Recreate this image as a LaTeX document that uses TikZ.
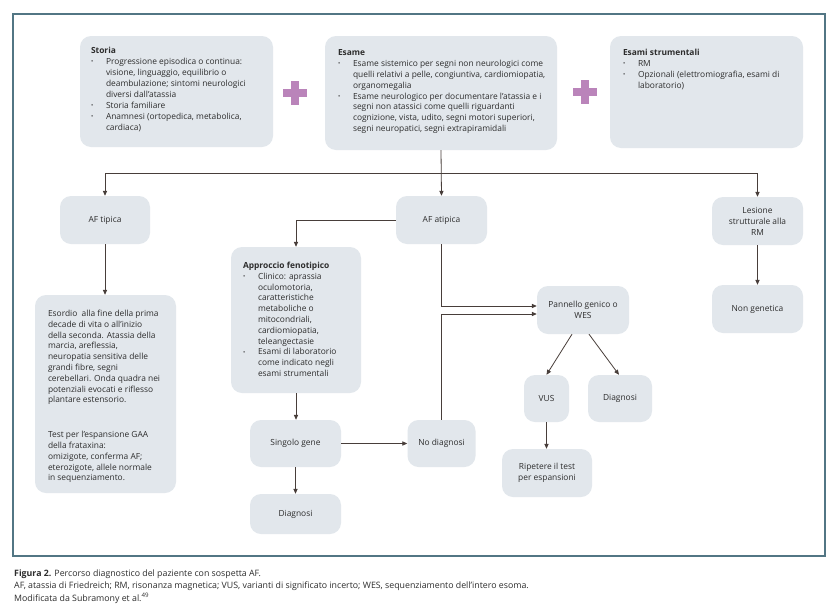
\documentclass[tikz,border=0pt]{standalone}
\usepackage{fontspec}
\setmainfont{Open Sans}
\usetikzlibrary{arrows.meta}
\definecolor{boxgray}{RGB}{226,231,236}
\definecolor{linec}{RGB}{72,62,58}
\definecolor{framec}{RGB}{82,118,132}
\definecolor{plusc}{RGB}{186,132,186}
\definecolor{txtc}{RGB}{45,45,45}
\newcommand{\bt}{\fontsize{8.4}{11}\selectfont}
\newcommand{\btt}{\fontsize{8.4}{10.8}\selectfont}
\newcommand{\bitem}[1]{\par\noindent\hangindent=15pt\hangafter=1\makebox[15pt][l]{\raisebox{0.15ex}{\scalebox{0.7}{\textbullet}}}#1}
% \topbox{width}{height}{left pad}{top pad}{content}
\newcommand{\topbox}[5]{\parbox[c][#2][t]{#1}{\vspace*{#4}\leftskip=#3\relax\parindent=0pt #5\par}}
\tikzset{
  box/.style={fill=boxgray, rounded corners=11pt, inner sep=0pt, align=center, font=\bt, text=txtc},
  conn/.style={draw=linec, line width=0.8pt},
  arr/.style={conn, -{Triangle[length=5pt,width=4.2pt]}},
  captext/.style={anchor=west, inner sep=0pt, font=\fontsize{8.8}{10}\selectfont, text=txtc}
}
\begin{document}
\begin{tikzpicture}[x=1pt,y=-1pt]
\useasboundingbox (0,0) rectangle (836,611);
\fill[white] (0,0) rectangle (836,611);
\draw[framec, line width=1.3pt] (13,14) rectangle (825,556);

% top boxes
\node[box, minimum width=193pt, minimum height=111pt] (storia) at (176.5,91.5)
 {\topbox{193pt}{111pt}{11pt}{11pt}{\textbf{Storia}
  \bitem{Progressione episodica o continua:\\ visione, linguaggio, equilibrio o\\ deambulazione; sintomi neurologici\\ diversi dall'atassia}
  \bitem{Storia familiare}
  \bitem{Anamnesi (ortopedica, metabolica,\\ cardiaca)}}};
\node[box, minimum width=232pt, minimum height=114pt] (esame) at (441,93)
 {\topbox{232pt}{114pt}{13pt}{13pt}{\textbf{Esame}
  \bitem{Esame sistemico per segni non neurologici come\\ quelli relativi a pelle, congiuntiva, cardiomiopatia,\\ organomegalia}
  \bitem{Esame neurologico per documentare l’atassia e i\\ segni non atassici come quelli riguardanti\\ cognizione, vista, udito, segni motori superiori,\\ segni neuropatici, segni extrapiramidali}}};
\node[box, minimum width=193pt, minimum height=112pt] (strum) at (706.5,92)
 {\topbox{193pt}{112pt}{13pt}{13pt}{\textbf{Esami strumentali}
  \bitem{RM}
  \bitem{Opzionali (elettromiografia, esami di\\ laboratorio)}}};

% plus signs
\fill[plusc] (283,89) rectangle (307,97);
\fill[plusc] (291,81) rectangle (299,105);
\fill[plusc] (572.5,88) rectangle (596.5,96);
\fill[plusc] (580.5,80) rectangle (588.5,104);

% second row
\node[box, minimum width=90pt, minimum height=48pt] (aftip) at (105,220) {AF tipica};
\node[box, minimum width=91pt, minimum height=48pt] (afatip) at (441.5,220) {AF atipica};
\node[box, minimum width=91pt, minimum height=48pt] (lesione) at (757.5,221) {Lesione\\ strutturale alla\\ RM};
\node[box, minimum width=91pt, minimum height=48pt] (nongen) at (757.5,309) {Non genetica};

\node[box, font=\btt, minimum width=141pt, minimum height=198pt] (esordio) at (105.5,394)
 {\topbox{141pt}{198pt}{13pt}{15pt}{Esordio\ \ alla fine della prima\\ decade di vita o all’inizio\\ della seconda. Atassia della\\ marcia, areflessia,\\ neuropatia sensitiva delle\\ grandi fibre, segni\\ cerebellari. Onda quadra nei\\ potenziali evocati e riflesso\\ plantare estensorio.\par\vspace{24pt}
  Test per l’espansione GAA\\ della frataxina:\\ omizigote, conferma AF;\\ eterozigote, allele normale\\ in sequenziamento.}};

\node[box, font=\btt, minimum width=130pt, minimum height=146pt] (approccio) at (296,320)
 {\topbox{130pt}{146pt}{12pt}{15pt}{\textbf{Approccio fenotipico}
  \bitem{Clinico: aprassia\\ oculomotoria,\\ caratteristiche\\ metaboliche o\\ mitocondriali,\\ cardiomiopatia,\\ teleangectasie}
  \bitem{Esami di laboratorio\\ come indicato negli\\ esami strumentali}}};

\node[box, minimum width=92pt, minimum height=48pt] (pannello) at (583,310) {Pannello genico o\\ WES};
\node[box, minimum width=91pt, minimum height=47pt] (singolo) at (295.5,443.5) {Singolo gene};
\node[box, minimum width=68pt, minimum height=47pt] (nodiag) at (441.5,443.5) {No diagnosi};
\node[box, minimum width=91pt, minimum height=40pt] (diag1) at (295.5,514) {Diagnosi};
\node[box, minimum width=45pt, minimum height=47pt] (vus) at (546.5,398.5) {VUS};
\node[box, minimum width=64pt, minimum height=47pt] (diag2) at (620,398.5) {Diagnosi};
\node[box, minimum width=90pt, minimum height=48pt] (ripetere) at (547,473) {Ripetere il test\\ per espansioni};

% connectors
\coordinate (hub) at (441,173);
\draw[arr] (esame.south) -- (afatip.north);
\draw[arr] (hub) -| (aftip.north);
\draw[arr] (hub) -| (lesione.north);
\draw[arr] (afatip.west) -| (approccio.north);
\draw[arr] (aftip.south) -- (esordio.north -| aftip.south);
\draw[arr] (lesione.south) -- (nongen.north);
\draw[arr] (afatip.south) |- ([yshift=4pt]pannello.west);
\draw[arr] (nodiag.north) |- ([yshift=-4pt]pannello.west);
\draw[arr] (approccio.south) -- (singolo.north -| approccio.south);
\draw[arr] (singolo.east) -- (nodiag.west);
\draw[arr] (singolo.south) -- (diag1.north);
\draw[arr] ([xshift=-11pt]pannello.south) -- (vus.north);
\draw[arr] ([xshift=6pt]pannello.south) -- ([xshift=-1pt]diag2.north);
\draw[arr] (vus.south) -- (ripetere.north -| vus.south);

% caption
\node[captext] (cap1) at (14,574) {\textbf{Figura 2.} Percorso diagnostico del paziente con sospetta AF.};
\node[captext] (cap2) at (14,586) {AF, atassia di Friedreich; RM, risonanza magnetica; VUS, varianti di significato incerto; WES, sequenziamento dell'intero esoma.};
\node[captext] (cap3) at (14,598) {Modificata da Subramony et al.\textsuperscript{49}};
\end{tikzpicture}
\end{document}
